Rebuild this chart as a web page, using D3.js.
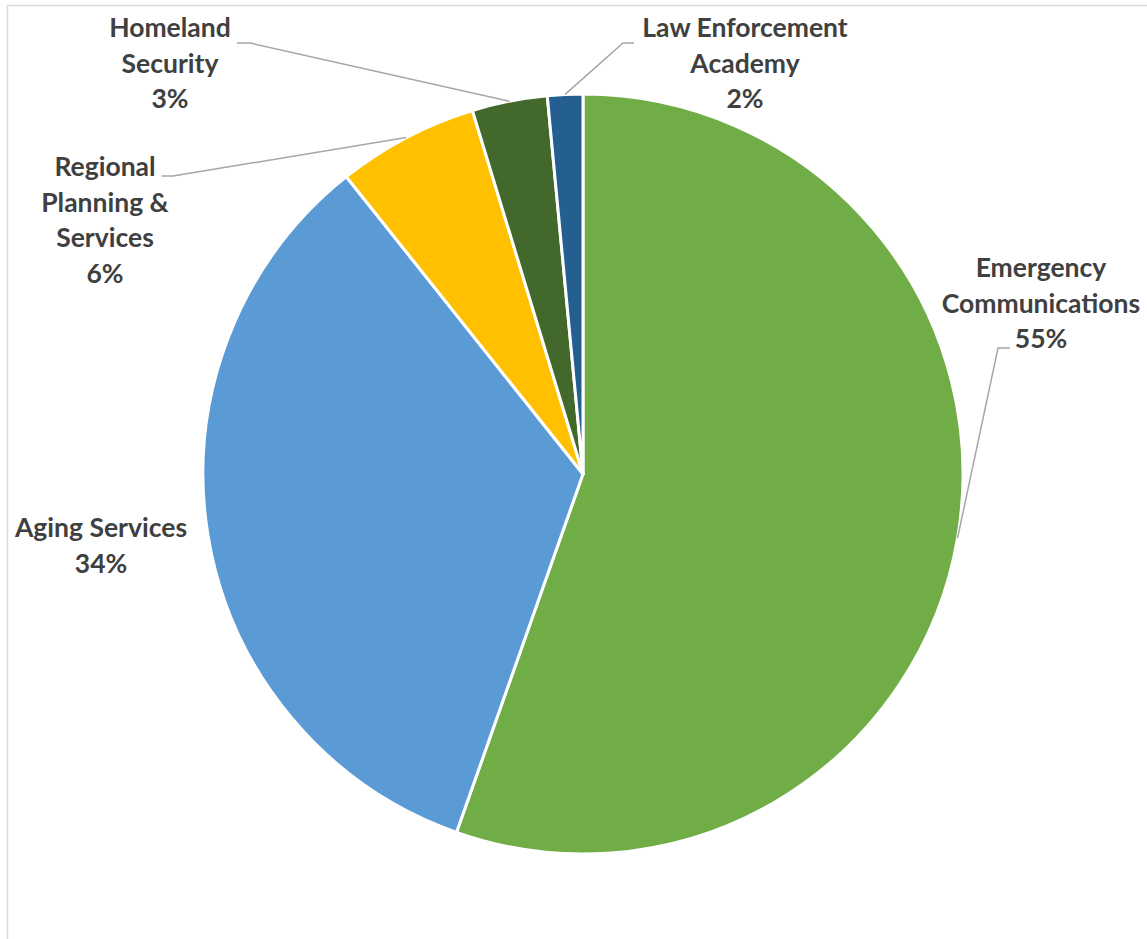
<!DOCTYPE html>
<html>
<head>
<meta charset="utf-8">
<script src="https://cdn.jsdelivr.net/npm/d3@7"></script>
<style>
  html, body { margin: 0; padding: 0; background: #fff; }
  svg { display: block; }
</style>
</head>
<body>
<svg id="chart" width="1147" height="939"></svg>
<script>
// ---- data ----
const categories = ["Emergency Communications", "Aging Services", "Regional Planning & Services", "Homeland Security", "Law Enforcement Academy"];
const values = [55.4, 33.9, 6.0, 3.2, 1.5];
const percentLabels = ["55%", "34%", "6%", "3%", "2%"];
const colors = ["#70ad47", "#5b9bd5", "#ffc000", "#43682b", "#255e91"];
const labelLines = [
  ["Emergency", "Communications", "55%"],
  ["Aging Services", "34%"],
  ["Regional", "Planning &", "Services", "6%"],
  ["Homeland", "Security", "3%"],
  ["Law Enforcement", "Academy", "2%"]
];

// ---- layout (not data) ----
const W = 1147, H = 939;
const cx = 583, cy = 474, R = 380;
const labelPos = [ // centre x, first line centre y
  {x: 1041, y: 268, elbow: {x1: 1010, x2: 998, y: 348}},
  {x: 101, y: 528, elbow: null},
  {x: 105, y: 167, elbow: {x1: 162, x2: 173, y: 176}},
  {x: 170, y: 28, elbow: {x1: 237, x2: 250, y: 43}},
  {x: 745, y: 28, elbow: {x1: 634, x2: 623, y: 43}}
];
const lineH = 35.5;

const svg = d3.select("#chart");

// border
svg.append("rect")
  .attr("x", 7.5).attr("y", 5.5)
  .attr("width", W + 10).attr("height", H + 10)
  .attr("fill", "none").attr("stroke", "#d9d9d9").attr("stroke-width", 1.5);

const data = categories.map((c, i) => ({name: c, value: values[i], color: colors[i], i}));

const pie = d3.pie().value(d => d.value).sort(null).startAngle(0).endAngle(2 * Math.PI);
const arcs = pie(data);
const arc = d3.arc().innerRadius(0).outerRadius(R);

const g = svg.append("g").attr("transform", `translate(${cx},${cy})`);
g.selectAll("path.slice").data(arcs).join("path")
  .attr("class", "slice")
  .attr("d", arc)
  .attr("fill", d => d.data.color)
  .attr("stroke", "#fff")
  .attr("stroke-width", 3)
  .attr("stroke-linejoin", "round");

// leader lines
arcs.forEach((a, i) => {
  const lp = labelPos[i];
  if (!lp.elbow) return;
  const mid = (a.startAngle + a.endAngle) / 2;
  const px = cx + R * Math.sin(mid);
  const py = cy - R * Math.cos(mid);
  svg.append("polyline")
    .attr("points", `${lp.elbow.x1},${lp.elbow.y} ${lp.elbow.x2},${lp.elbow.y} ${px},${py}`)
    .attr("fill", "none")
    .attr("stroke", "#a6a6a6")
    .attr("stroke-width", 1.5);
});

// labels
arcs.forEach((a, i) => {
  const lp = labelPos[i];
  const t = svg.append("text")
    .attr("text-anchor", "middle")
    .attr("font-family", "Lato, 'Open Sans', sans-serif")
    .attr("font-weight", "bold")
    .attr("font-size", 26.5)
    .attr("fill", "#404040");
  labelLines[i].forEach((ln, k) => {
    t.append("tspan")
      .attr("x", lp.x)
      .attr("y", lp.y + k * lineH)
      .attr("dy", "0.35em")
      .text(ln);
  });
});
</script>
</body>
</html>
